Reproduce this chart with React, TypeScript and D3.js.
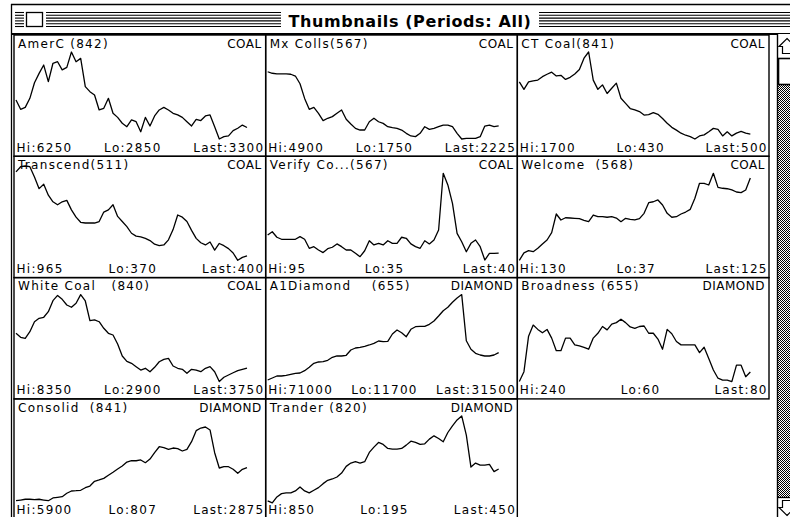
import React, { useEffect, useRef } from 'react';
import * as d3 from 'd3';

// thumbnail headers, in reading order (3 per row)
const titles = [
  'AmerC (842)', 'Mx Colls(567)', 'CT Coal(841)',
  'Transcend(511)', 'Verify Co...(567)', 'Welcome  (568)',
  'White Coal   (840)', 'A1Diamond    (655)', 'Broadness (655)',
  'Consolid  (841)', 'Trander (820)',
];
const kinds = ['COAL', 'COAL', 'COAL', 'COAL', 'COAL', 'COAL', 'COAL', 'DIAMOND', 'DIAMOND', 'DIAMOND', 'DIAMOND'];
const hiVals = [6250, 4900, 1700, 965, 95, 130, 8350, 71000, 240, 5900, 850];
const loVals = [2850, 1750, 430, 370, 35, 37, 2900, 11700, 60, 807, 195];
const lastVals = [3300, 2225, 500, 400, 40, 125, 3750, 31500, 80, 2875, 450];

const amerC = [4375, 4010, 4085, 4440, 5050, 5415, 5740, 5090, 5810, 5870, 5550, 5650, 6250, 5870, 6000, 4895, 4700, 4570, 3985, 4050, 4440, 3855, 3695, 3465, 3330, 3595, 3525, 3135, 3695, 3360, 3750, 3985, 4085, 3985, 3855, 3790, 3695, 3525, 3360, 3620, 3570, 3750, 3790, 3330, 2850, 2940, 2970, 3175, 3270, 3395, 3300];
const mxColls = [4185, 4130, 4105, 4105, 4105, 4095, 4030, 3750, 3220, 2825, 2895, 2680, 2415, 2500, 2560, 2680, 2800, 2465, 2295, 2135, 2075, 2075, 2375, 2500, 2375, 2315, 2195, 2160, 2135, 2075, 1955, 1860, 1835, 1955, 2195, 2100, 2135, 2195, 2255, 2255, 2195, 1955, 1750, 1775, 1775, 1775, 1835, 2220, 2255, 2195, 2225];
const ctCoal = [1265, 1155, 1265, 1280, 1290, 1340, 1375, 1405, 1350, 1360, 1300, 1330, 1380, 1445, 1610, 1700, 1290, 1155, 1220, 1095, 1170, 1245, 1025, 950, 875, 855, 830, 780, 785, 815, 790, 730, 660, 600, 560, 515, 485, 465, 430, 475, 490, 535, 585, 570, 475, 535, 475, 515, 540, 515, 500];
const transcend = [975, 1010, 1015, 1010, 940, 860, 890, 815, 770, 750, 770, 780, 715, 665, 630, 625, 625, 625, 635, 700, 715, 750, 670, 635, 600, 555, 535, 530, 520, 505, 480, 470, 475, 510, 580, 680, 665, 635, 575, 520, 490, 475, 495, 440, 485, 470, 450, 420, 370, 390, 400];
const verifyCo = [52.4, 54.7, 50.9, 49.5, 49.5, 49.5, 49.5, 51.3, 49.5, 43.3, 44.4, 42.1, 40.3, 43, 44, 46.3, 44.4, 42.1, 42.1, 39.8, 37.5, 41.6, 48.5, 45.6, 46.7, 45.6, 48.5, 46.7, 46.7, 50.9, 50.2, 46.3, 44.4, 43.3, 48.5, 46.3, 49, 55.9, 95, 87, 74.3, 53.6, 47.8, 40.9, 46.7, 49, 44.4, 35.2, 39.8, 39.8, 40];
const welcome = [37, 45, 47.3, 46.2, 49.8, 54.4, 58.7, 66.5, 86.5, 80.1, 82.5, 82.2, 81.9, 81.5, 79.8, 78.3, 85.4, 83.6, 83.6, 83, 83.6, 82.2, 78.3, 81.9, 80.8, 80.1, 81.5, 87.2, 98.6, 99.6, 101.5, 96.1, 87.2, 83, 83.6, 86.5, 88.6, 91.5, 103.3, 119.3, 119.3, 117.5, 130, 115, 114, 113.5, 112.2, 110, 109.3, 112.2, 125];
const whiteCoal = [5925, 5675, 5610, 6025, 6650, 6865, 6930, 7280, 7970, 8300, 8055, 7700, 7555, 7805, 8350, 7950, 6715, 6760, 6650, 6240, 5925, 5820, 5255, 4505, 4170, 4045, 3835, 3625, 3735, 3520, 3795, 4145, 4295, 4360, 3875, 3735, 3670, 3420, 3670, 3625, 3520, 3735, 3835, 3520, 2900, 3170, 3315, 3455, 3585, 3670, 3750];
const a1Diamond = [12800, 14150, 15520, 15520, 15990, 16680, 17360, 17560, 19130, 21450, 24170, 25060, 25260, 26220, 28260, 29150, 29150, 29630, 33240, 34600, 35080, 35760, 36650, 37800, 39370, 38900, 39170, 44140, 46870, 45030, 42300, 47350, 49120, 49390, 49390, 50760, 53000, 56410, 60020, 62340, 65750, 68680, 71000, 39580, 33720, 30990, 29830, 29150, 29150, 29830, 31500];
const broadness = [60, 80.5, 154, 177, 168, 161, 168, 150, 124, 124, 150, 150, 136, 134, 131, 127, 150, 160, 174, 167, 179, 182, 189, 182, 173, 170, 174, 175, 160, 160, 148, 127, 168, 159, 143, 136, 136, 136, 136, 120, 131, 108, 84, 67, 63, 63, 60, 94, 94, 70, 80];
const consolid = [935, 975, 1020, 1020, 995, 1020, 975, 935, 1095, 1135, 1170, 1370, 1505, 1520, 1545, 1695, 1795, 2070, 2150, 2245, 2425, 2600, 2790, 2965, 3200, 3275, 3275, 3320, 3160, 3375, 3745, 4095, 4040, 3945, 4020, 3980, 3845, 3945, 4390, 5035, 5190, 5250, 5075, 3745, 2850, 2925, 2925, 2775, 2540, 2775, 2875];
const trander = [210, 195, 240, 265, 270, 270, 285, 315, 285, 270, 290, 310, 340, 365, 375, 390, 420, 470, 495, 505, 495, 505, 575, 615, 650, 635, 605, 600, 600, 605, 630, 660, 650, 635, 640, 675, 700, 680, 655, 725, 775, 820, 850, 705, 465, 495, 480, 480, 485, 430, 450];

const series = [amerC, mxColls, ctCoal, transcend, verifyCo, welcome, whiteCoal, a1Diamond, broadness, consolid, trander];

const W = 790;
const H = 517;
const FONT = '"DejaVu Sans", Verdana, sans-serif';

const Thumbnails = () => {
  const ref = useRef(null);

  useEffect(() => {
    const svg = d3.select(ref.current);
    svg.selectAll('*').remove();

    const defs = svg.append('defs');
    const pat = defs.append('pattern')
      .attr('id', 'dither')
      .attr('width', 2)
      .attr('height', 2)
      .attr('patternUnits', 'userSpaceOnUse');
    pat.append('rect').attr('width', 2).attr('height', 2).attr('fill', '#fff');
    pat.append('rect').attr('width', 1).attr('height', 1).attr('fill', '#000');
    pat.append('rect').attr('x', 1).attr('y', 1).attr('width', 1).attr('height', 1).attr('fill', '#000');

    svg.append('rect').attr('width', W).attr('height', H).attr('fill', '#fff');

    // window frame + title bar
    const frame = svg.append('g').attr('stroke', '#000').attr('fill', 'none');
    frame.append('line').attr('x1', 11).attr('x2', W).attr('y1', 4.5).attr('y2', 4.5).attr('stroke-width', 1.3);
    frame.append('line').attr('x1', 11.5).attr('x2', 11.5).attr('y1', 4).attr('y2', H).attr('stroke-width', 1.3);
    frame.append('line').attr('x1', 11).attr('x2', W).attr('y1', 34).attr('y2', 34).attr('stroke-width', 2);

    const stripeRuns = [[15, 24], [46, 281], [539, W]];
    d3.range(6).forEach(i => {
      const y = 12.5 + i * 2.8;
      stripeRuns.forEach(([a, b]) => {
        frame.append('line').attr('x1', a).attr('x2', b).attr('y1', y).attr('y2', y).attr('stroke-width', 1.1);
      });
    });
    frame.append('rect')
      .attr('x', 26.5).attr('y', 12.5).attr('width', 16).attr('height', 14)
      .attr('fill', '#fff').attr('stroke-width', 1.3);

    svg.append('text')
      .attr('x', 410).attr('y', 27)
      .attr('text-anchor', 'middle')
      .style('font-family', FONT)
      .style('font-weight', 'bold')
      .style('font-size', '16px')
      .style('letter-spacing', '0.6px')
      .text('Thumbnails (Periods: All)');

    // scroll bar
    const sb = svg.append('g');
    sb.append('rect').attr('x', 777.5).attr('y', 34).attr('width', 20).attr('height', H - 34).attr('fill', 'url(#dither)');
    sb.append('rect').attr('x', 777.5).attr('y', 34).attr('width', 20).attr('height', 24).attr('fill', '#fff');
    sb.append('rect').attr('x', 778.5).attr('y', 58.5).attr('width', 20).attr('height', 26)
      .attr('fill', '#fff').attr('stroke', '#000').attr('stroke-width', 1.6);
    sb.append('rect').attr('x', 777.5).attr('y', 497.5).attr('width', 20).attr('height', 20).attr('fill', '#fff');
    sb.append('line').attr('x1', 777.5).attr('x2', W).attr('y1', 497.5).attr('y2', 497.5).attr('stroke', '#000').attr('stroke-width', 1.3);
    sb.append('line').attr('x1', 777.5).attr('x2', 777.5).attr('y1', 34).attr('y2', H).attr('stroke', '#000').attr('stroke-width', 1.4);
    const arrow = (pts: number[][]) => sb.append('polygon')
      .attr('points', pts.map(p => p.join(',')).join(' '))
      .attr('fill', '#fff').attr('stroke', '#000').attr('stroke-width', 1.2);
    arrow([[787, 38.5], [795, 46.5], [791.5, 46.5], [791.5, 53.5], [782.5, 53.5], [782.5, 46.5], [779, 46.5]]);
    arrow([[787, 515.5], [795, 507.5], [791.5, 507.5], [791.5, 500.5], [782.5, 500.5], [782.5, 507.5], [779, 507.5]]);

    // thumbnail grid
    const cellW = (769 - 14) / 3;
    const cellH = 121.3;
    const grid = svg.append('g');

    series.forEach((vals, i) => {
      const cx = 14 + (i % 3) * cellW;
      const cy = 35 + Math.floor(i / 3) * cellH;
      const g = grid.append('g');

      g.append('rect')
        .attr('x', cx).attr('y', cy).attr('width', cellW).attr('height', cellH)
        .attr('fill', 'none').attr('stroke', '#000').attr('stroke-width', 1.4);

      const x = d3.scaleLinear().domain([0, vals.length - 1]).range([cx + 2, cx + 233]);
      const y = d3.scaleLinear().domain([loVals[i], hiVals[i]]).range([cy + 104, cy + 17]);
      const line = d3.line<number>().x((d, j) => x(j)).y(d => y(d));

      g.append('path')
        .datum(vals)
        .attr('d', line)
        .attr('fill', 'none')
        .attr('stroke', '#000')
        .attr('stroke-width', 1.3)
        .attr('stroke-linejoin', 'round');

      const txt = (tx: number, ty: number, s: string, anchor = 'start', ls = 1.3) => g.append('text')
        .attr('x', tx).attr('y', ty)
        .attr('text-anchor', anchor)
        .style('font-family', FONT)
        .style('font-size', '12px')
        .style('letter-spacing', `${ls}px`)
        .style('white-space', 'pre')
        .attr('fill', '#000')
        .text(s);

      txt(cx + 4, cy + 12.8, titles[i]);
      txt(cx + cellW - 4, cy + 12.8, kinds[i], 'end', 0.5);

      // bottom row sits at the window edge; keep its labels inside the picture
      const by = Math.min(cy + cellH - 4.5, H - 3.2);
      const hi = txt(cx + 2.5, by, `Hi:${hiVals[i]}`);
      const last = txt(cx + cellW - 1.2, by, `Last:${lastVals[i]}`, 'end');
      const hb = (hi.node() as SVGTextElement).getBBox();
      const lb = (last.node() as SVGTextElement).getBBox();
      txt((hb.x + hb.width + lb.x) / 2, by, `Lo:${loVals[i]}`, 'middle');
    });
  }, []);

  return (
    <svg ref={ref} width={W} height={H} style={{ position: 'absolute', left: 0, top: 0 }}></svg>
  );
};

export default function App() {
  return <Thumbnails />;
}
